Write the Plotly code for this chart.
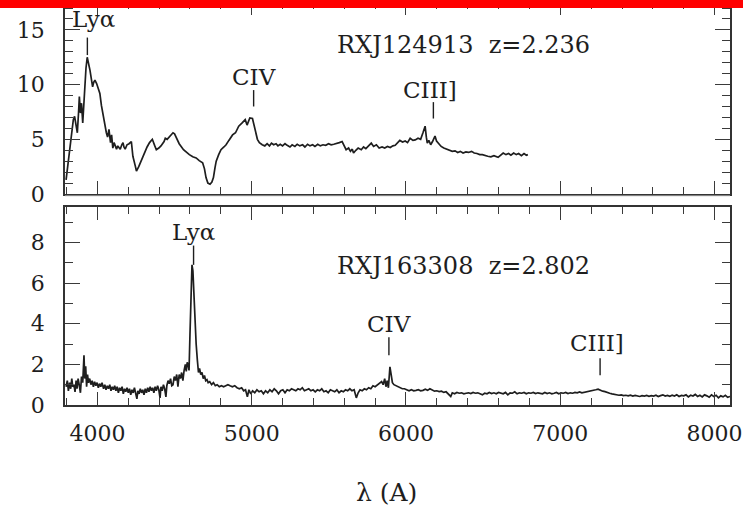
import plotly.graph_objects as go
from plotly.subplots import make_subplots

# ---- RXJ124913 (z = 2.236): observed wavelength (A) and flux ----
lam_a = [3797, 3812, 3828, 3844, 3852, 3862, 3870, 3878, 3883, 3890, 3897, 3905, 3912, 3918,
         3926, 3934, 3945, 3952, 3962, 3969, 3976, 3984, 3995, 4005, 4016, 4026, 4037, 4048,
         4058, 4066, 4075, 4080, 4085, 4092, 4100, 4108, 4116, 4124, 4132, 4140, 4148, 4158,
         4166, 4172, 4180, 4192, 4205, 4220, 4230, 4245, 4253, 4268, 4290, 4306, 4322, 4338,
         4356, 4372, 4382, 4398, 4412, 4432, 4440, 4452, 4470, 4490, 4500, 4512, 4530, 4558,
         4578, 4596, 4618, 4640, 4660, 4682, 4694, 4704, 4716, 4730, 4742, 4752, 4762, 4770,
         4786, 4801, 4820, 4834, 4852, 4876, 4895, 4916, 4938, 4958, 4970, 4988, 5005, 5020,
         5037, 5050, 5068, 5085, 5100, 5115, 5128, 5142, 5158, 5170, 5185, 5200, 5216, 5230,
         5248, 5262, 5280, 5295, 5312, 5330, 5345, 5362, 5378, 5395, 5410, 5428, 5445, 5462,
         5480, 5498, 5515, 5532, 5550, 5568, 5586, 5600, 5612, 5628, 5640, 5652, 5660, 5675,
         5690, 5710, 5725, 5740, 5758, 5775, 5790, 5808, 5826, 5845, 5862, 5880, 5898, 5915,
         5930, 5945, 5960, 5978, 5995, 6010, 6027, 6045, 6060, 6078, 6095, 6110, 6124, 6132,
         6138, 6148, 6160, 6172, 6188, 6198, 6212, 6228, 6245, 6262, 6280, 6300, 6318, 6335,
         6352, 6370, 6388, 6405, 6425, 6442, 6460, 6478, 6495, 6512, 6530, 6550, 6570, 6597,
         6615, 6630, 6648, 6665, 6680, 6698, 6715, 6730, 6748, 6765, 6780, 6790]
flux_a = [1.3, 3.0, 5.2, 6.8, 7.1, 6.0, 5.6, 7.5, 8.9, 7.4, 8.3, 6.5, 8.6, 10.4,
          11.5, 12.5, 11.8, 11.3, 10.4, 9.8, 10.2, 10.4, 10.1, 9.6, 9.2, 8.1, 7.1, 6.2,
          5.6, 5.2, 5.9, 5.3, 4.7, 5.4, 4.2, 4.7, 4.3, 4.1, 4.4, 4.2, 4.1, 4.5,
          4.7, 4.3, 4.1, 4.5, 4.6, 4.8, 3.45, 2.6, 2.1, 2.5, 3.3, 3.75, 4.3, 4.7,
          5.0, 4.4, 4.05, 4.2, 4.4, 4.8, 5.1, 5.0, 5.3, 5.6, 5.5, 5.1, 4.6, 4.05,
          3.8, 3.6, 3.4, 3.3, 3.05, 2.85, 2.3, 1.5, 1.0, 0.9, 1.1, 1.5, 2.4, 3.0,
          3.6, 4.05, 4.3, 4.5, 4.9, 5.4, 5.6, 6.2, 6.5, 6.8, 6.3, 6.95, 6.9, 5.9,
          5.0, 4.7, 4.5, 4.4, 4.6, 4.4, 4.65, 4.5, 4.6, 4.4, 4.55, 4.4, 4.6, 4.45,
          4.3, 4.5, 4.35, 4.55, 4.4, 4.5, 4.3, 4.55, 4.4, 4.5, 4.35, 4.55, 4.4, 4.5,
          4.45, 4.6, 4.5, 4.55, 4.6, 4.7, 4.8, 4.4, 4.05, 4.2, 3.9, 4.1, 3.75, 4.0,
          4.2, 4.05, 4.3, 4.15, 4.45, 4.65, 4.35, 4.5, 4.2, 4.3, 4.2, 4.35, 4.25, 4.4,
          4.45, 4.7, 4.9, 4.75, 4.85, 4.7, 5.1, 4.9, 4.95, 5.1, 5.0, 5.6, 6.2, 5.2,
          4.65, 4.9, 4.5, 4.8, 5.3, 4.85, 4.6, 4.35, 4.2, 4.1, 4.0, 3.9, 3.95, 3.8,
          3.9, 3.75, 3.85, 3.8, 3.9, 3.75, 3.7, 3.6, 3.6, 3.5, 3.45, 3.4, 3.5, 3.35,
          3.6, 3.75, 3.6, 3.7, 3.55, 3.75, 3.6, 3.7, 3.5, 3.7, 3.55, 3.6]

# ---- RXJ163308 (z = 2.802): observed wavelength (A) and flux ----
lam_b = [3797, 3805, 3812, 3820, 3827, 3834, 3840, 3848, 3855, 3862, 3868, 3875, 3882, 3890,
         3897, 3905, 3913, 3918, 3924, 3930, 3936, 3942, 3950, 3958, 3966, 3974, 3982, 3990,
         3998, 4006, 4014, 4022, 4030, 4040, 4048, 4056, 4064, 4072, 4080, 4088, 4096, 4104,
         4112, 4120, 4128, 4136, 4144, 4152, 4160, 4168, 4176, 4184, 4192, 4200, 4208, 4216,
         4224, 4232, 4240, 4248, 4256, 4262, 4270, 4278, 4286, 4294, 4302, 4310, 4318, 4326,
         4334, 4342, 4350, 4358, 4366, 4374, 4382, 4390, 4398, 4406, 4412, 4420, 4428, 4436,
         4444, 4450, 4458, 4466, 4474, 4482, 4490, 4498, 4506, 4514, 4522, 4530, 4538, 4546,
         4554, 4562, 4570, 4576, 4582, 4588, 4594, 4600, 4607, 4613, 4619, 4626, 4632, 4640,
         4648, 4655, 4662, 4670, 4678, 4686, 4694, 4702, 4710, 4718, 4728, 4740, 4752, 4764,
         4776, 4790, 4804, 4818, 4832, 4846, 4860, 4875, 4890, 4905, 4920, 4935, 4948, 4960,
         4972, 4982, 4994, 5006, 5020, 5034, 5048, 5062, 5076, 5090, 5104, 5118, 5132, 5146,
         5160, 5174, 5188, 5202, 5216, 5230, 5244, 5258, 5272, 5286, 5300, 5314, 5328, 5342,
         5356, 5370, 5384, 5398, 5412, 5426, 5440, 5454, 5468, 5482, 5496, 5510, 5524, 5538,
         5552, 5566, 5580, 5594, 5608, 5622, 5636, 5650, 5664, 5678, 5690, 5702, 5716, 5730,
         5744, 5758, 5772, 5786, 5800, 5814, 5828, 5842, 5852, 5862, 5870, 5878, 5886, 5896,
         5904, 5912, 5922, 5934, 5948, 5962, 5976, 5990, 6005, 6020, 6035, 6050, 6065, 6080,
         6095, 6110, 6125, 6140, 6155, 6170, 6185, 6200, 6215, 6230, 6245, 6260, 6275, 6290,
         6300, 6315, 6330, 6345, 6360, 6375, 6390, 6405, 6420, 6435, 6450, 6465, 6480, 6495,
         6510, 6525, 6540, 6555, 6570, 6585, 6600, 6615, 6630, 6645, 6660, 6675, 6690, 6705,
         6720, 6735, 6750, 6765, 6780, 6795, 6810, 6825, 6840, 6855, 6870, 6885, 6900, 6915,
         6930, 6945, 6960, 6975, 6990, 7005, 7020, 7035, 7050, 7065, 7080, 7095, 7110, 7125,
         7140, 7155, 7170, 7185, 7200, 7215, 7230, 7245, 7260, 7275, 7290, 7305, 7320, 7335,
         7350, 7365, 7380, 7395, 7410, 7425, 7440, 7455, 7470, 7485, 7500, 7515, 7530, 7545,
         7560, 7575, 7590, 7605, 7620, 7635, 7650, 7665, 7680, 7695, 7710, 7725, 7740, 7755,
         7770, 7785, 7800, 7815, 7830, 7845, 7860, 7875, 7890, 7905, 7920, 7935, 7950, 7965,
         7980, 7995, 8010, 8025, 8040, 8055, 8070, 8085, 8100]
flux_b = [0.9, 1.2, 0.7, 1.1, 0.8, 1.3, 0.9, 1.0, 0.65, 1.2, 0.8, 1.3, 1.0, 0.6,
          1.4, 1.1, 2.45, 1.3, 1.9, 0.9, 1.5, 1.1, 1.3, 1.0, 1.2, 0.9, 1.15, 0.95,
          1.1, 0.85, 1.05, 0.9, 1.1, 0.8, 1.0, 0.75, 0.95, 0.8, 1.0, 0.7, 0.9, 0.75,
          0.95, 0.7, 0.9, 0.6, 0.85, 0.7, 0.9, 0.55, 0.8, 0.65, 0.85, 0.6, 0.8, 0.5,
          0.75, 0.6, 0.85, 0.55, 0.3, 0.7, 0.55, 0.8, 0.6, 0.75, 0.5, 0.8, 0.6, 0.85,
          0.65, 0.9, 0.7, 0.85, 0.6, 0.9, 0.7, 0.95, 0.75, 0.35, 0.9, 0.7, 1.0, 0.8,
          0.4, 0.95, 1.2, 1.05, 1.3, 0.95, 1.0, 1.4, 1.2, 1.5, 0.9, 1.5, 1.3, 1.6,
          1.2, 1.7, 2.0, 1.65, 2.1, 2.0, 1.7, 3.5, 6.0, 6.9, 6.6, 5.2, 4.2, 3.0,
          2.2, 1.6, 1.8, 1.5, 1.6, 1.3, 1.45, 1.2, 1.25, 1.1, 1.15, 1.0, 1.1, 0.95,
          1.0, 0.9, 0.95, 0.9, 0.95, 1.0, 0.95, 0.9, 0.95, 0.85, 0.8, 0.85, 0.7, 0.75,
          0.4, 0.75, 0.55, 0.7, 0.6, 0.75, 0.65, 0.7, 0.55, 0.7, 0.6, 0.75, 0.65, 0.8,
          0.7, 0.55, 0.7, 0.75, 0.6, 0.75, 0.7, 0.8, 0.75, 0.7, 0.8, 0.75, 0.85, 0.7,
          0.75, 0.8, 0.7, 0.75, 0.65, 0.75, 0.7, 0.8, 0.65, 0.7, 0.6, 0.75, 0.7, 0.65,
          0.75, 0.6, 0.7, 0.65, 0.75, 0.7, 0.8, 0.7, 0.75, 0.35, 0.6, 0.75, 0.7, 0.8,
          0.75, 0.85, 0.8, 0.95, 0.9, 1.0, 1.1, 1.15, 1.0, 1.3, 0.9, 1.2, 0.85, 1.88,
          1.5, 1.1, 1.0, 0.95, 0.9, 0.85, 0.8, 0.8, 0.75, 0.7, 0.75, 0.7, 0.72, 0.75,
          0.7, 0.72, 0.78, 0.72, 0.8, 0.72, 0.68, 0.7, 0.66, 0.68, 0.62, 0.65, 0.55, 0.42,
          0.6, 0.55, 0.62, 0.58, 0.6, 0.55, 0.58, 0.6, 0.56, 0.62, 0.58, 0.6, 0.55, 0.5,
          0.58, 0.55, 0.62, 0.56, 0.6, 0.55, 0.62, 0.58, 0.55, 0.62, 0.5, 0.6, 0.58, 0.65,
          0.55, 0.6, 0.58, 0.62, 0.55, 0.6, 0.58, 0.62, 0.56, 0.6, 0.58, 0.55, 0.62, 0.56,
          0.6, 0.55, 0.58, 0.62, 0.55, 0.6, 0.58, 0.62, 0.56, 0.6, 0.58, 0.62, 0.6, 0.64,
          0.6, 0.62, 0.64, 0.66, 0.68, 0.7, 0.75, 0.78, 0.72, 0.68, 0.66, 0.6, 0.58, 0.55,
          0.52, 0.5, 0.48, 0.5, 0.46, 0.48, 0.45, 0.48, 0.44, 0.47, 0.45, 0.42, 0.46, 0.44,
          0.47, 0.43, 0.46, 0.44, 0.48, 0.42, 0.46, 0.5, 0.44, 0.47, 0.43, 0.48, 0.44, 0.5,
          0.42, 0.47, 0.45, 0.5, 0.4, 0.48, 0.44, 0.52, 0.42, 0.48, 0.4, 0.5, 0.45, 0.38,
          0.5, 0.42, 0.48, 0.35, 0.45, 0.4, 0.48, 0.38, 0.42]

# ---- emission-line identifications ----
line_names = ["Lyα", "CIV", "CIII]"]
line_rest = [1216, 1549, 1909]   # rest wavelengths (A)

objects = ["RXJ124913", "RXJ163308"]
redshifts = [2.236, 2.802]

x_ticks = [4000, 5000, 6000, 7000, 8000]
y_ticks_top = [0, 5, 10, 15]
y_ticks_bottom = [0, 2, 4, 6, 8]

# marker segment (y0, y1) and label height for each line, per panel
marker_y = [
    [(12.7, 14.3, 16.0), (8.0, 9.5, 10.7), (6.9, 8.4, 9.55)],
    [(6.9, 7.85, 8.5), (2.45, 3.33, 4.0), (1.47, 2.3, 3.05)],
]
label_shift = [[6, 0, -3], [0, 0, -3]]

FONT = "DejaVu Serif"
INK = "#1e1e1e"

fig = make_subplots(rows=2, cols=1, shared_xaxes=True, vertical_spacing=0.0)

spectra = [(lam_a, flux_a), (lam_b, flux_b)]
for row, (lam, flux) in enumerate(spectra, start=1):
    fig.add_trace(go.Scatter(x=lam, y=flux, mode="lines",
                             line=dict(color=INK, width=1.7),
                             showlegend=False, hoverinfo="skip"),
                  row=row, col=1)

annotations = []
for p, z in enumerate(redshifts):
    xr = "x" if p == 0 else "x2"
    yr = "y" if p == 0 else "y2"
    for k, name in enumerate(line_names):
        lam_obs = line_rest[k] * (1 + z)
        y0, y1, ylab = marker_y[p][k]
        fig.add_trace(go.Scatter(x=[lam_obs, lam_obs], y=[y0, y1], mode="lines",
                                 line=dict(color=INK, width=1.4),
                                 showlegend=False, hoverinfo="skip"),
                      row=p + 1, col=1)
        annotations.append(dict(x=lam_obs, y=ylab, xref=xr, yref=yr, text=name,
                                showarrow=False, xshift=label_shift[p][k],
                                xanchor="center", yanchor="middle",
                                font=dict(family=FONT, size=23, color=INK)))
    title_y = 13.6 if p == 0 else 6.86
    annotations.append(dict(x=6370, y=title_y, xref=xr, yref=yr,
                            text=f"{objects[p]}\u00a0\u00a0z={z:.3f}",
                            showarrow=False, xanchor="center", yanchor="middle",
                            font=dict(family=FONT, size=24, color=INK)))

# wavelength axis title
annotations.append(dict(x=0.4835, y=-0.217, xref="paper", yref="paper",
                        text="λ (A)", showarrow=False,
                        xanchor="center", yanchor="middle",
                        font=dict(family=FONT, size=25, color=INK)))

axis_common = dict(showline=True, linecolor="#333333", linewidth=1.6, mirror="allticks",
                   ticks="inside", tickcolor="#3a3a3a", tickwidth=1.4,
                   showgrid=False, zeroline=False,
                   tickfont=dict(family=FONT, size=22, color=INK))

fig.update_xaxes(range=[3790, 8100], tickvals=x_ticks, ticklen=13,
                 ticklabeloverflow="allow",
                 minor=dict(dtick=200, tick0=4000, ticklen=7, tickwidth=1.2,
                            tickcolor="#3a3a3a", ticks="inside", showgrid=False),
                 **axis_common)
fig.update_xaxes(showticklabels=False, row=1, col=1)
fig.update_xaxes(ticklabelstandoff=8, row=2, col=1)

fig.update_yaxes(ticklen=15, ticklabelstandoff=14,
                 minor=dict(dtick=1, tick0=0, ticklen=8, tickwidth=1.2,
                            tickcolor="#3a3a3a", ticks="inside", showgrid=False),
                 **axis_common)
fig.update_yaxes(range=[0, 17.55], tickvals=y_ticks_top, domain=[0.5235, 1.0], row=1, col=1)
fig.update_yaxes(range=[0, 9.75], tickvals=y_ticks_bottom, domain=[0.0, 0.4914], row=2, col=1)

fig.update_layout(
    width=743, height=512,
    margin=dict(l=65, r=10, t=0, b=107),
    paper_bgcolor="white", plot_bgcolor="white",
    annotations=annotations,
    shapes=[
        dict(type="rect", xref="paper", yref="paper", x0=-0.2, x1=1.2,
             y0=0.985, y1=1.05, fillcolor="#ff0000", line=dict(width=0), layer="above"),
        dict(type="line", xref="paper", yref="paper", x0=0, x1=1,
             y0=0.5185, y1=0.5185, line=dict(color="#dddddd", width=1)),
    ],
)

fig.write_html("out.html")
